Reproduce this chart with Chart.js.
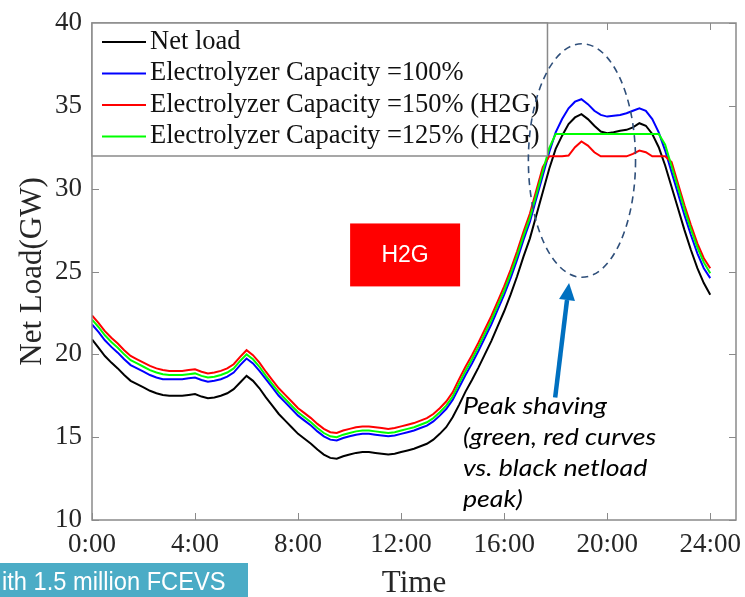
<!DOCTYPE html>
<html><head><meta charset="utf-8">
<script src="https://cdn.jsdelivr.net/npm/chart.js@4.4.0/dist/chart.umd.min.js"></script>
<style>html,body{margin:0;padding:0;background:#fff;}#wrap{width:745px;height:597px;position:relative;}</style>
</head><body><div id="wrap"><canvas id="c" width="745" height="597"></canvas></div>
<script>
// Time of day in hours
const hours = [
  0,0.25,0.5,0.75, 1,1.25,1.5,1.75, 2,2.25,2.5,2.75, 3,3.25,3.5,3.75,
  4,4.25,4.5,4.75, 5,5.25,5.5,5.75, 6,6.25,6.5,6.75, 7,7.25,7.5,7.75,
  8,8.25,8.5,8.75, 9,9.25,9.5,9.75, 10,10.25,10.5,10.75, 11,11.25,11.5,11.75,
  12,12.25,12.5,12.75, 13,13.25,13.5,13.75, 14,14.25,14.5,14.75, 15,15.25,15.5,15.75,
  16,16.25,16.5,16.75, 17,17.25,17.5,17.75, 18,18.25,18.5,18.75, 19,19.25,19.5,19.75,
  20,20.25,20.5,20.75, 21,21.25,21.5,21.75, 22,22.25,22.5,22.75, 23,23.25,23.5,23.75, 24
];
// Net load (GW)
const netLoad = [
  20.9,20.4,19.9,19.5, 19.15,18.75,18.4,18.2, 18.0,17.8,17.65,17.55, 17.5,17.5,17.5,17.55,
  17.6,17.45,17.35,17.4, 17.5,17.65,17.9,18.3, 18.7,18.4,17.95,17.4, 16.9,16.4,16.0,15.6,
  15.2,14.9,14.6,14.25, 13.95,13.75,13.7,13.85, 13.95,14.05,14.1,14.1, 14.05,14.0,13.95,14.0,
  14.1,14.2,14.3,14.45, 14.6,14.85,15.2,15.6, 16.2,16.95,17.75,18.45, 19.2,20.0,20.8,21.7,
  22.6,23.6,24.7,25.9, 27.0,28.4,29.8,31.2, 32.4,33.2,33.9,34.3, 34.5,34.2,33.8,33.45,
  33.35,33.4,33.5,33.55, 33.7,33.95,33.8,33.3, 32.5,31.4,30.1,28.8, 27.5,26.3,25.2,24.3, 23.6
];
// Electrolyzer Capacity = 100%
const cap100 = [
  21.8,21.35,20.85,20.45, 20.1,19.7,19.35,19.15, 18.95,18.75,18.6,18.5, 18.5,18.5,18.5,18.55,
  18.6,18.45,18.35,18.4, 18.5,18.65,18.9,19.35, 19.75,19.45,19.0,18.5, 18.0,17.5,17.1,16.7,
  16.3,16.0,15.7,15.35, 15.05,14.85,14.8,14.95, 15.05,15.15,15.2,15.2, 15.15,15.1,15.05,15.1,
  15.2,15.3,15.4,15.55, 15.7,15.95,16.3,16.7, 17.25,18.0,18.75,19.45, 20.2,21.0,21.8,22.7,
  23.6,24.6,25.7,26.9, 28.0,29.4,30.8,32.2, 33.4,34.2,34.85,35.25, 35.4,35.1,34.7,34.45,
  34.35,34.4,34.45,34.55, 34.7,34.85,34.7,34.2, 33.4,32.3,31.0,29.7, 28.4,27.2,26.1,25.2, 24.6
];
// Electrolyzer Capacity = 150% (H2G)
const cap150 = [
  22.35,21.9,21.4,21.0, 20.65,20.25,19.9,19.7, 19.5,19.3,19.15,19.05, 19.0,19.0,19.0,19.05,
  19.1,18.95,18.85,18.9, 19.0,19.15,19.4,19.85, 20.25,19.95,19.5,18.95, 18.45,17.95,17.55,17.15,
  16.75,16.45,16.15,15.8, 15.5,15.3,15.25,15.4, 15.5,15.6,15.65,15.65, 15.6,15.55,15.5,15.55,
  15.65,15.75,15.85,16.0, 16.15,16.4,16.75,17.15, 17.7,18.5,19.25,19.95, 20.7,21.5,22.3,23.2,
  24.1,25.1,26.2,27.4, 28.5,29.9,31.3,31.95, 31.95,31.95,32.0,32.5, 32.85,32.6,32.2,31.95,
  31.95,31.95,31.95,31.95, 32.1,32.3,32.2,31.95, 31.95,31.95,31.6,30.3, 29.0,27.8,26.7,25.8, 25.2
];
// Electrolyzer Capacity = 125% (H2G)
const cap125 = [
  22.1,21.65,21.15,20.75, 20.4,20.0,19.65,19.45, 19.25,19.05,18.9,18.8, 18.75,18.75,18.75,18.8,
  18.85,18.7,18.6,18.65, 18.75,18.9,19.15,19.6, 20.0,19.7,19.25,18.7, 18.2,17.7,17.3,16.9,
  16.5,16.2,15.9,15.55, 15.25,15.05,15.0,15.15, 15.25,15.35,15.4,15.4, 15.35,15.3,15.25,15.3,
  15.4,15.5,15.6,15.75, 15.9,16.15,16.5,16.9, 17.45,18.25,19.0,19.7, 20.45,21.25,22.05,22.95,
  23.85,24.85,25.95,27.15, 28.25,29.65,31.05,32.45, 33.3,33.3,33.3,33.3, 33.3,33.3,33.3,33.3,
  33.3,33.3,33.3,33.3, 33.3,33.3,33.3,33.3, 33.3,32.65,31.35,30.05, 28.75,27.55,26.45,25.55, 24.9
];
const seriesLabels = ['Net load','Electrolyzer Capacity =100%','Electrolyzer Capacity =150% (H2G)','Electrolyzer Capacity =125% (H2G)'];
const seriesColors = ['#000000','#0000ff','#ff0000','#00ff00'];
const xTicks = [0,4,8,12,16,20,24];
const xTickLabels = ['0:00','4:00','8:00','12:00','16:00','20:00','24:00'];
const yTicks = [10,15,20,25,30,35,40];

const serif = "'Liberation Serif','Times New Roman',serif";
const values = [netLoad, cap100, cap150, cap125];
const datasets = values.map((v, i) => ({
  label: seriesLabels[i],
  data: hours.map((h, k) => ({x: h, y: v[k]})),
  borderColor: seriesColors[i],
  backgroundColor: seriesColors[i],
  borderWidth: 2,
  pointRadius: 0,
  tension: 0,
  fill: false,
  order: 4 - i
}));

const framePlugin = {
  id: 'frame',
  afterDatasetsDraw(chart) {
    const {ctx, chartArea: a, scales: {x, y}} = chart;
    ctx.save();
    ctx.strokeStyle = '#8a8a8a';
    ctx.lineWidth = 1.5;
    ctx.strokeRect(a.left, a.top, a.right - a.left, a.bottom - a.top);
    const tl = 7;
    ctx.lineWidth = 1;
    ctx.beginPath();
    yTicks.forEach(v => {
      const py = Math.round(y.getPixelForValue(v)) + 0.5;
      ctx.moveTo(a.left, py); ctx.lineTo(a.left + tl, py);
      ctx.moveTo(a.right, py); ctx.lineTo(a.right - tl, py);
    });
    xTicks.forEach(v => {
      const px = Math.round(x.getPixelForValue(v)) + 0.5;
      ctx.moveTo(px, a.bottom); ctx.lineTo(px, a.bottom - tl);
      ctx.moveTo(px, a.top); ctx.lineTo(px, a.top + tl);
    });
    ctx.stroke();

    // legend box (drawn from the datasets)
    const fs = 26.5;
    ctx.font = fs + 'px ' + serif;
    let maxW = 0;
    chart.data.datasets.forEach(d => { maxW = Math.max(maxW, ctx.measureText(d.label).width); });
    const lx = a.left, ly = a.top, rowH = 31.5;
    const bw = 58 + maxW + 8, bh = 133;
    ctx.fillStyle = '#ffffff';
    ctx.fillRect(lx, ly, bw, bh);
    ctx.strokeStyle = '#8a8a8a';
    ctx.lineWidth = 1.5;
    ctx.strokeRect(lx, ly, bw, bh);
    chart.data.datasets.forEach((d, i) => {
      const cy = ly + 19 + i * rowH;
      ctx.strokeStyle = d.borderColor;
      ctx.lineWidth = 2;
      ctx.beginPath(); ctx.moveTo(lx + 10, cy); ctx.lineTo(lx + 54, cy); ctx.stroke();
      ctx.fillStyle = '#111111';
      ctx.textBaseline = 'middle';
      ctx.textAlign = 'left';
      ctx.fillText(d.label, lx + 58, cy);
    });
    ctx.restore();
  },
  afterDraw(chart) {
    const {ctx, scales: {x, y}} = chart;
    ctx.save();
    // dashed ellipse around the peak
    const cx = x.getPixelForValue(19.02), cy = y.getPixelForValue(31.7);
    const rx = x.getPixelForValue(21.1) - cx, ry = cy - y.getPixelForValue(38.75);
    ctx.strokeStyle = '#2f4f7a';
    ctx.lineWidth = 1.6;
    ctx.setLineDash([7, 5]);
    ctx.beginPath(); ctx.ellipse(cx, cy, rx, ry, 0, 0, Math.PI * 2); ctx.stroke();
    ctx.setLineDash([]);
    // blue arrow
    const tx = x.getPixelForValue(17.98), ty = y.getPixelForValue(17.4);
    const hx = x.getPixelForValue(18.52), hy = y.getPixelForValue(24.3);
    const ang = Math.atan2(hy - ty, hx - tx);
    const hl = 17, hw = 8;
    const bx = hx - Math.cos(ang) * hl, by = hy - Math.sin(ang) * hl;
    ctx.strokeStyle = '#0070c0'; ctx.fillStyle = '#0070c0';
    ctx.lineWidth = 4.5;
    ctx.beginPath(); ctx.moveTo(tx, ty); ctx.lineTo(bx, by); ctx.stroke();
    ctx.beginPath();
    ctx.moveTo(hx, hy);
    ctx.lineTo(bx + Math.sin(ang) * hw, by - Math.cos(ang) * hw);
    ctx.lineTo(bx - Math.sin(ang) * hw, by + Math.cos(ang) * hw);
    ctx.closePath(); ctx.fill();
    // H2G label box
    const x0 = x.getPixelForValue(10.02), x1 = x.getPixelForValue(14.29);
    const y0 = y.getPixelForValue(27.9), y1 = y.getPixelForValue(24.1);
    ctx.fillStyle = '#ff0000';
    ctx.fillRect(x0, y0, x1 - x0, y1 - y0);
    ctx.fillStyle = '#ffffff';
    ctx.font = "23px 'Liberation Sans', Arial, sans-serif";
    ctx.textAlign = 'center'; ctx.textBaseline = 'middle';
    ctx.fillText('H2G', (x0 + x1) / 2, (y0 + y1) / 2 + 1);
    // peak shaving note (horizontally stretched like the source)
    ctx.fillStyle = '#000000';
    ctx.textAlign = 'left';
    ctx.font = "italic 23px Lato, 'Open Sans', sans-serif";
    const notes = ['Peak shaving', '(green, red curves', 'vs. black netload', 'peak)'];
    const nx = x.getPixelForValue(14.4);
    const ny = y.getPixelForValue(16.85);
    const sx = 1.16;
    ctx.save();
    ctx.translate(nx, 0);
    ctx.scale(sx, 1);
    notes.forEach((t, i) => ctx.fillText(t, 0, ny + i * 31));
    ctx.restore();
    // teal caption box at the bottom left
    ctx.fillStyle = '#4bacc6';
    ctx.fillRect(0, 563, 248, 34);
    ctx.fillStyle = '#ffffff';
    ctx.font = "26px 'Liberation Sans', Arial, sans-serif";
    ctx.textBaseline = 'alphabetic';
    ctx.save();
    ctx.translate(2, 0);
    ctx.scale(0.91, 1);
    ctx.fillText('ith 1.5 million FCEVS', 0, 590);
    ctx.restore();
    ctx.restore();
  }
};

new Chart(document.getElementById('c'), {
  type: 'line',
  data: { datasets },
  options: {
    responsive: false,
    animation: false,
    devicePixelRatio: 1,
    layout: { padding: { top: 23, right: 9, left: 0, bottom: 0 } },
    plugins: { legend: { display: false }, tooltip: { enabled: false } },
    scales: {
      x: {
        type: 'linear', min: 0, max: 25,
        grid: { display: false, drawTicks: false },
        border: { display: false },
        afterBuildTicks: s => { s.ticks = xTicks.map(v => ({ value: v })); },
        afterFit: s => { s.height = 77; s.paddingLeft = 0; s.paddingRight = 0; },
        ticks: {
          padding: 9,
          color: '#262626',
          font: { family: serif, size: 27 },
          maxRotation: 0,
          callback: (v, i) => xTickLabels[i]
        },
        title: { display: true, text: 'Time', color: '#262626', font: { family: serif, size: 31 }, padding: { top: 0, bottom: -5 } }
      },
      y: {
        type: 'linear', min: 10, max: 40,
        grid: { display: false, drawTicks: false },
        border: { display: false },
        afterBuildTicks: s => { s.ticks = yTicks.map(v => ({ value: v })); },
        afterFit: s => { s.width = 92; s.paddingTop = 0; s.paddingBottom = 0; },
        ticks: {
          padding: 10,
          color: '#262626',
          font: { family: serif, size: 27 },
          callback: v => String(v)
        },
        title: { display: true, text: 'Net Load(GW)', color: '#262626', font: { family: serif, size: 31 }, padding: { top: 14, bottom: 0 } }
      }
    }
  },
  plugins: [framePlugin]
});
</script>
</body></html>
